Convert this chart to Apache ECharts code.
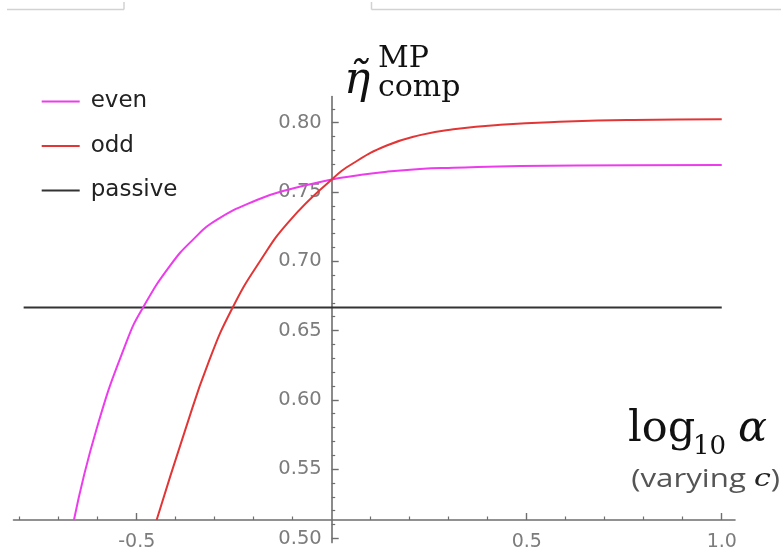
<!DOCTYPE html>
<html>
<head>
<meta charset="utf-8">
<script src="https://cdn.jsdelivr.net/npm/echarts@6/dist/echarts.min.js"></script>
<style>html,body{margin:0;padding:0;background:#fff;}#c{width:781px;height:553px;}</style>
</head>
<body>
<div id="c"></div>
<script>
// ---- data ----
const seriesNames = ['even', 'odd', 'passive'];
const evenX = [-0.661, -0.603, -0.526, -0.483, -0.414, -0.355, -0.295, -0.192, -0.115, 0, 0.055, 0.141, 0.226, 0.312, 0.483, 0.773, 1.0];
const evenY = [0.5133, 0.579, 0.642, 0.667, 0.697, 0.7158, 0.7298, 0.7442, 0.7514, 0.759, 0.7615, 0.7646, 0.7666, 0.7675, 0.7688, 0.7693, 0.7695];
const oddX = [-0.449, -0.376, -0.316, -0.256, -0.184, -0.107, 0, 0.055, 0.141, 0.226, 0.312, 0.432, 0.603, 0.773, 1.0];
const oddY = [0.5133, 0.578, 0.627, 0.6655, 0.700, 0.7295, 0.759, 0.7707, 0.7835, 0.791, 0.7952, 0.7985, 0.8008, 0.802, 0.8025];
const passiveX = [-0.79, 1.0];
const passiveY = [0.6667, 0.6667];

const xMajorTicks = [-0.5, 0.5, 1.0];
const xMinorTicks = [-0.8, -0.7, -0.6, -0.4, -0.3, -0.2, -0.1, 0.1, 0.2, 0.3, 0.4, 0.6, 0.7, 0.8, 0.9];
const yMajorTicks = [0.50, 0.55, 0.60, 0.65, 0.70, 0.75, 0.80];
const yMinorTicks = [0.51, 0.52, 0.53, 0.54, 0.56, 0.57, 0.58, 0.59, 0.61, 0.62, 0.63, 0.64,
                     0.66, 0.67, 0.68, 0.69, 0.71, 0.72, 0.73, 0.74, 0.76, 0.77, 0.78, 0.79, 0.81];

const xRange = [-0.816, 1.034];
const yRange = [0.497, 0.8188];

const zip = (xs, ys) => xs.map((x, i) => [x, ys[i]]);

// ---- layout / style ----
const G = { left: 13.5, top: 96.6, width: 721.5, height: 446 };
const axisColor = '#6e6e6e';
const labelColor = '#7c7c7c';
const xAxisOffset = -22.6;          // x axis sits above the plot's bottom edge
const yAxisOffset = -318.2;         // y axis sits at x = 0

const chart = echarts.init(document.getElementById('c'), null, { renderer: 'canvas' });

function xAxisBase(extra) {
  return Object.assign({
    type: 'value', min: xRange[0], max: xRange[1], position: 'bottom', offset: xAxisOffset,
    splitLine: { show: false }
  }, extra);
}
function yAxisBase(extra) {
  return Object.assign({
    type: 'value', min: yRange[0], max: yRange[1], position: 'left', offset: yAxisOffset,
    splitLine: { show: false }
  }, extra);
}

const option = {
  animation: false,
  backgroundColor: '#fff',
  grid: Object.assign({ containLabel: false, outerBoundsMode: 'none' }, G),
  xAxis: [
    xAxisBase({
      axisLine: { show: true, onZero: false, lineStyle: { color: axisColor, width: 1.6 } },
      axisTick: { show: true, inside: true, length: 7, customValues: xMajorTicks, lineStyle: { color: axisColor, width: 1.4 } },
      axisLabel: { show: true, customValues: xMajorTicks, margin: 13, color: labelColor, fontSize: 19,
        fontFamily: 'DejaVu Sans', formatter: v => v.toFixed(1) }
    }),
    xAxisBase({
      axisLine: { show: false, onZero: false },
      axisTick: { show: true, inside: true, length: 3.5, customValues: xMinorTicks, lineStyle: { color: axisColor, width: 1.2 } },
      axisLabel: { show: false }
    })
  ],
  yAxis: [
    yAxisBase({
      axisLine: { show: true, onZero: false, lineStyle: { color: axisColor, width: 1.6 } },
      axisTick: { show: true, inside: true, length: 7, customValues: yMajorTicks, lineStyle: { color: axisColor, width: 1.4 } },
      axisLabel: { show: true, customValues: yMajorTicks, margin: 10, color: labelColor, fontSize: 19.5,
        fontFamily: 'DejaVu Sans', formatter: v => v.toFixed(2) }
    }),
    yAxisBase({
      axisLine: { show: false, onZero: false },
      axisTick: { show: true, inside: true, length: 3.5, customValues: yMinorTicks, lineStyle: { color: axisColor, width: 1.2 } },
      axisLabel: { show: false }
    })
  ],
  legend: {
    data: seriesNames,
    orient: 'vertical',
    left: 36.7, top: 85,
    icon: 'rect',
    itemWidth: 38, itemHeight: 2, itemGap: 21.5,
    textStyle: { fontFamily: 'DejaVu Sans', fontSize: 23, color: '#222', padding: [0, 0, 0, 6] }
  },
  series: [
    { name: 'even', type: 'line', data: zip(evenX, evenY), symbol: 'none', smooth: 0.5,
      lineStyle: { color: '#ec3cec', width: 2 }, itemStyle: { color: '#ec3cec' }, z: 3 },
    { name: 'odd', type: 'line', data: zip(oddX, oddY), symbol: 'none', smooth: 0.5,
      lineStyle: { color: '#e23636', width: 2 }, itemStyle: { color: '#e23636' }, z: 4 },
    { name: 'passive', type: 'line', data: zip(passiveX, passiveY), symbol: 'none',
      lineStyle: { color: '#333333', width: 2 }, itemStyle: { color: '#333333' }, z: 2 }
  ],
  graphic: [
    { type: 'line', shape: { x1: 7, y1: 9.5, x2: 124, y2: 9.5 }, style: { stroke: '#d2d2d2', lineWidth: 1.5 } },
    { type: 'line', shape: { x1: 124, y1: 2, x2: 124, y2: 9.5 }, style: { stroke: '#d2d2d2', lineWidth: 1.5 } },
    { type: 'line', shape: { x1: 371.5, y1: 2, x2: 371.5, y2: 9.5 }, style: { stroke: '#d2d2d2', lineWidth: 1.5 } },
    { type: 'line', shape: { x1: 371.5, y1: 9.5, x2: 781, y2: 9.5 }, style: { stroke: '#d2d2d2', lineWidth: 1.5 } },
    // y axis title
    { type: 'text', x: 344, y: 82, style: { text: 'η̃', font: 'italic 44px "DejaVu Serif"', fill: '#111', verticalAlign: 'middle', align: 'left' } },
    { type: 'text', x: 378, y: 59, style: { text: 'MP', font: '30px "DejaVu Serif"', fill: '#111', verticalAlign: 'middle', align: 'left' } },
    { type: 'text', x: 378, y: 88, style: { text: 'comp', font: '30px "DejaVu Serif"', fill: '#111', verticalAlign: 'middle', align: 'left' } },
    // x axis title
    { type: 'text', x: 628, y: 430, style: { text: 'log', font: '43px "DejaVu Serif"', fill: '#111', verticalAlign: 'middle', align: 'left' } },
    { type: 'text', x: 693, y: 447, style: { text: '10', font: '26px "DejaVu Serif"', fill: '#111', verticalAlign: 'middle', align: 'left' } },
    { type: 'text', x: 738, y: 430, style: { text: 'α', font: 'italic 43px "DejaVu Serif"', fill: '#111', verticalAlign: 'middle', align: 'left' } },
    { type: 'text', x: 780, y: 480, scaleX: 1.25, style: {
        text: '{a|(varying }{c|c}{a|)}', align: 'right', verticalAlign: 'middle',
        rich: { a: { fontFamily: 'Open Sans', fontSize: 25, fill: '#555', color: '#555' },
                c: { fontFamily: 'DejaVu Serif', fontStyle: 'italic', fontSize: 24, fill: '#222', color: '#222' } } } }
  ]
};
chart.setOption(option);
</script>
</body>
</html>
